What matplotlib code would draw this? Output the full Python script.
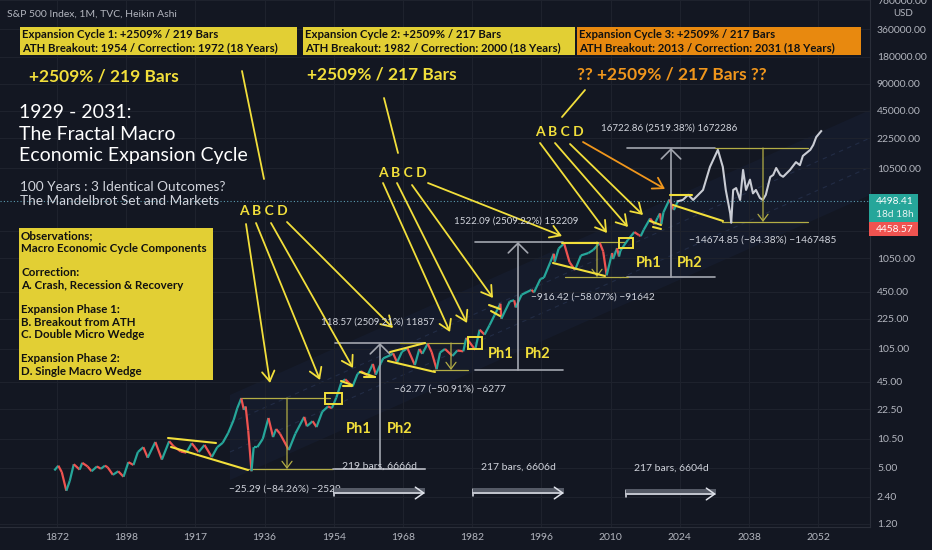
import numpy as np
import matplotlib
matplotlib.use('Agg')
import matplotlib.pyplot as plt
from matplotlib.collections import LineCollection
from matplotlib.patches import Rectangle, Polygon
from matplotlib.ticker import NullLocator

plt.rcParams['font.family'] = ['Lato', 'DejaVu Sans']

# colours
BG = '#131722'
GRID = '#1e222d'
AXTXT = '#b2b5be'
UP = '#26a69a'
DOWN = '#ef5350'
YEL = '#f2df3b'
BOX_YEL = '#e2cf34'
ORANGE = '#f0961c'
BOX_ORANGE = '#e8890f'
WHITE = '#d1d4dc'
MEAS = '#a3a6af'
OLIVE = '#b3ad45'

# axes
tick_years = [1872, 1898, 1917, 1936, 1954, 1968, 1982, 1996, 2010, 2024, 2038, 2052]
price_ticks = [1.2, 2.4, 5, 10.5, 22.5, 45, 105, 225, 450, 1050, 2100, 10500,
               22500, 45000, 90000, 180000, 360000, 760000]

# S&P 500 (monthly Heikin Ashi)
hist_years = [1871.0, 1872.5, 1873.8, 1875.5, 1876.8, 1878.3, 1880.5, 1881.5, 1883.5, 1885.0,
              1887.0, 1888.5, 1890.0, 1891.0, 1893.0, 1895.0, 1897.0, 1898.6, 1900.0, 1901.2,
              1902.7, 1903.9, 1906.0, 1907.8, 1909.8, 1911.0, 1913.0, 1914.5, 1916.0, 1917.9,
              1919.5, 1921.5, 1923.0, 1924.5, 1926.0, 1927.5, 1928.5, 1929.6, 1930.3, 1930.8,
              1931.5, 1932.4, 1933.0, 1934.0, 1935.5, 1937.0, 1938.2, 1939.0, 1940.0, 1942.3,
              1944.0, 1946.3, 1947.0, 1948.5, 1949.5, 1951.0, 1952.5, 1953.5, 1954.5, 1955.5,
              1956.3, 1957.0, 1957.8, 1958.8, 1959.5, 1960.8, 1961.9, 1962.5, 1963.5, 1964.0,
              1965.5, 1966.0, 1966.8, 1967.8, 1968.9, 1970.4, 1971.3, 1971.9, 1973.0, 1973.8,
              1974.8, 1975.5, 1976.5, 1978.0, 1979.0, 1980.2, 1980.8, 1982.6, 1983.5, 1984.5,
              1985.5, 1986.5, 1987.7, 1987.9, 1989.6, 1990.5, 1990.8, 1992.0, 1994.0, 1994.5,
              1995.8, 1996.5, 1997.8, 1998.5, 1998.7, 1999.5, 2000.6, 2001.7, 2002.8, 2004.0,
              2005.5, 2006.5, 2007.8, 2008.5, 2009.2, 2010.3, 2010.5, 2011.3, 2011.7, 2012.0,
              2013.5, 2014.8, 2015.7, 2016.1, 2016.7, 2018.0, 2018.9, 2019.5, 2020.0, 2020.25,
              2020.7, 2021.9, 2022.8, 2023.6]
hist_prices = [4.7, 5.3, 4.5, 2.8, 3.6, 5.5, 4.8, 5.7, 5.2, 4.6,
               5.2, 4.9, 5.3, 5.1, 4.2, 4.6, 4.0, 5.8, 5.4, 7.5,
               8.5, 6.5, 9.7, 6.2, 9.9, 8.7, 7.6, 7.4, 9.4, 7.5,
               9.0, 6.6, 8.5, 9.5, 12.2, 17.0, 23.0, 29.6, 22.0, 24.0,
               13.0, 4.6, 8.5, 8.5, 10.5, 17.9, 11.0, 13.5, 12.0, 7.9,
               12.0, 18.4, 14.5, 16.5, 14.2, 21.0, 24.0, 23.0, 30.0, 44.0,
               48.0, 44.0, 40.0, 55.0, 59.0, 53.0, 71.0, 54.0, 72.0, 82.0,
               89.0, 93.0, 74.0, 97.0, 106.0, 69.0, 104.0, 92.0, 119.0, 96.0,
               62.0, 95.0, 104.0, 87.0, 100.0, 98.0, 138.0, 102.0, 170.0, 150.0,
               190.0, 245.0, 330.0, 225.0, 350.0, 360.0, 300.0, 415.0, 470.0, 440.0,
               620.0, 640.0, 950.0, 1180.0, 960.0, 1350.0, 1530.0, 950.0, 780.0, 1130.0,
               1200.0, 1300.0, 1560.0, 1250.0, 680.0, 1200.0, 1030.0, 1360.0, 1100.0, 1280.0,
               1680.0, 2050.0, 1900.0, 1850.0, 2170.0, 2900.0, 2500.0, 2950.0, 3300.0, 2500.0,
               3400.0, 4700.0, 3600.0, 4498.41]

# projected fractal (ghost bars)
proj_years = [2023.6, 2024.6, 2025.7, 2026.7, 2028.7, 2030.1, 2031.7, 2032.7, 2033.3, 2034.2,
              2034.4, 2034.8, 2035.4, 2036.2, 2036.8, 2037.4, 2038.2, 2038.8, 2039.4, 2040.2,
              2040.8, 2041.4, 2042.3, 2042.9, 2043.5, 2044.3, 2044.9, 2046.3, 2047.5, 2048.3,
              2048.9, 2050.4, 2051.0, 2051.6, 2052.6]
proj_prices = [4498.41, 4650, 5300, 4650, 6000, 10800, 16700, 10800, 6000, 3300,
               2600, 6000, 6300, 4650, 10000, 6000, 7800, 5500, 6000, 4900,
               4650, 5300, 8350, 8800, 10500, 8800, 8400, 10000, 12200, 11300,
               14300, 16700, 18900, 23100, 26900]

last_close = 4498.41
last_open = 4458.57


def to_x(years):
    """Year -> position on the bar-indexed time axis"""
    years = np.asarray(years, float)
    idx = np.arange(len(tick_years))
    x = np.interp(years, tick_years, idx)
    lo = years < tick_years[0]
    x[lo] = (years[lo] - tick_years[0]) / (tick_years[1] - tick_years[0])
    hi = years > tick_years[-1]
    x[hi] = idx[-1] + (years[hi] - tick_years[-1]) / (tick_years[-1] - tick_years[-2])
    return x


W, H = 932, 550
PW, PH = 870, 527

fig = plt.figure(figsize=(W / 100, H / 100), dpi=100, facecolor=BG)
ax = fig.add_axes([0, (H - PH) / H, PW / W, PH / H], facecolor=BG)
ax.set_yscale('log')
ax.set_ylim(1.11, 762000)
ax.set_xlim(-57 / 69.2, (PW - 57) / 69.2)


def P(x, y):
    return (x / PW, 1 - y / PH)


def line(pts, color, lw=1.3, **kw):
    xs = [p[0] / PW for p in pts]
    ys = [1 - p[1] / PH for p in pts]
    ax.plot(xs, ys, transform=ax.transAxes, color=color, lw=lw,
            solid_capstyle='round', **kw)


def arrow(p0, p1, color, lw=1.3, style='->,head_length=0.45,head_width=0.28', ms=16):
    ax.annotate('', xy=P(*p1), xytext=P(*p0), xycoords='axes fraction',
                textcoords='axes fraction',
                arrowprops=dict(arrowstyle=style, color=color, lw=lw,
                                mutation_scale=ms, shrinkA=0, shrinkB=0))


def text(x, y, s, size, color, ha='left', weight='normal', **kw):
    ax.text(*P(x, y), s, transform=ax.transAxes, fontsize=size, color=color,
            ha=ha, va='center', fontweight=weight, **kw)


# axes styling (2100 label sits under the price tags)
ax.set_yticks(price_ticks)
ax.set_yticklabels(['' if p == 2100 else f'{p:.2f}' for p in price_ticks])
ax.yaxis.set_minor_locator(NullLocator())
ax.yaxis.tick_right()
ax.set_xticks(range(len(tick_years)))
ax.set_xticklabels([str(y) for y in tick_years])
ax.tick_params(axis='both', length=0, colors=AXTXT, labelsize=7.5)
ax.tick_params(axis='y', pad=5)
ax.tick_params(axis='x', pad=4)
ax.grid(True, color=GRID, lw=0.8)
for s in ['left', 'top']:
    ax.spines[s].set_visible(False)
for s in ['right', 'bottom']:
    ax.spines[s].set_color('#2a2e39')

# faint regression channel
ax.add_patch(Polygon([P(230, 480), P(870, 195), P(870, 110), P(230, 395)],
                     closed=True, transform=ax.transAxes, facecolor='#1a2542',
                     edgecolor='none', alpha=0.3, zorder=0.5))
for off in (28, 57):
    line([(230, 480 - off), (870, 195 - off)], '#222c45', lw=0.8, ls=(0, (4, 4)), zorder=0.6)

# price history, coloured by direction
hx = to_x(hist_years)
hy = np.array(hist_prices)
pts = np.column_stack([hx, hy]).reshape(-1, 1, 2)
segs = np.concatenate([pts[:-1], pts[1:]], axis=1)
cols = [UP if b >= a else DOWN for a, b in zip(hy[:-1], hy[1:])]
ax.add_collection(LineCollection(segs, colors=cols, linewidths=1.6, zorder=3))

# projection
ax.plot(to_x(proj_years), proj_prices, color='#c9ccd4', lw=1.5, zorder=3)

# last price line
ax.axhline(last_close, color='#5b9bb0', lw=0.8, ls=(0, (1, 2)), zorder=2)

# header
text(7, 14, 'S&P 500 Index, 1M, TVC, Heikin Ashi', 7.5, AXTXT)

# top info boxes
boxes = [
    ((20, 297), BOX_YEL, 'Expansion Cycle 1: +2509% / 219 Bars',
     'ATH Breakout: 1954 / Correction: 1972 (18 Years)'),
    ((303, 575), BOX_YEL, 'Expansion Cycle 2: +2509% / 217 Bars',
     'ATH Breakout: 1982 / Correction: 2000 (18 Years)'),
    ((577, 861), BOX_ORANGE, 'Expansion Cycle 3: +2509% / 217 Bars',
     'ATH Breakout: 2013 / Correction: 2031 (18 Years)'),
]
for (x0, x1), fc, l1, l2 in boxes:
    ax.add_patch(Rectangle(P(x0, 55), (x1 - x0) / PW, 28 / PH, transform=ax.transAxes,
                           facecolor=fc, edgecolor='none', zorder=4))
    text(x0 + 2, 35, l1, 8.2, '#111111', weight='bold', zorder=5)
    text(x0 + 2, 48, l2, 8.2, '#111111', weight='bold', zorder=5)

text(29, 76, '+2509% / 219 Bars', 12.5, YEL, weight='bold')
text(307, 75, '+2509% / 217 Bars', 12.5, YEL, weight='bold')
text(577, 74, '?? +2509% / 217 Bars ??', 12.5, ORANGE, weight='bold')
line([(242, 71), (264, 179)], YEL)
line([(384, 98), (398, 153)], YEL)
line([(585, 90), (562, 117)], YEL)

# title
for yy, s in zip([113, 134, 155], ['1929 - 2031:', 'The Fractal Macro', 'Economic Expansion Cycle']):
    text(19, yy, s, 14, 'white')
text(20, 187, '100 Years : 3 Identical Outcomes?', 9.8, WHITE)
text(20, 201, 'The Mandelbrot Set and Markets', 9.8, WHITE)

# observations box
ax.add_patch(Rectangle(P(19, 380), 194 / PW, 152 / PH, transform=ax.transAxes,
                       facecolor=BOX_YEL, edgecolor='none', zorder=4))
obs = ['Observations;', 'Macro Economic Cycle Components', '', 'Correction:',
       'A. Crash, Recession & Recovery', '', 'Expansion Phase 1:', 'B. Breakout from ATH',
       'C. Double Micro Wedge', '', 'Expansion Phase 2:', 'D. Single Macro Wedge']
for i, s in enumerate(obs):
    text(21, 236 + i * 12.3, s, 8.3, '#111111', weight='bold', zorder=5)

# A B C D arrows
text(263, 211, 'A B C D', 10, YEL, ha='center', weight='bold')
text(402, 173, 'A B C D', 10, YEL, ha='center', weight='bold')
text(559, 132, 'A B C D', 10, YEL, ha='center', weight='bold')
abcd = [
    [((246, 224), (270, 383)), ((256, 223), (320, 380)), ((271, 223), (353, 368)), ((287, 222), (393, 328))],
    [((383, 183), (450, 332)), ((397, 183), (467, 323)), ((412, 185), (493, 298)), ((428, 183), (562, 236))],
    [((540, 143), (607, 233)), ((555, 143), (628, 227)), ((570, 144), (643, 215))],
]
for grp in abcd:
    for p0, p1 in grp:
        arrow(p0, p1, YEL)
arrow((583, 142), (665, 189), ORANGE)

# wedges
wedges = [
    [(168, 438), (216, 443)], [(171, 447), (248, 470)],
    [(341, 381), (352, 385)], [(343, 386), (352, 386)],
    [(360, 372), (375, 377)], [(364, 377), (375, 377)],
    [(390, 352), (425, 343)], [(388, 361), (435, 372)],
    [(489, 305), (500, 309)], [(491, 311), (500, 316)],
    [(562, 243), (598, 243)], [(553, 263), (605, 276)],
    [(650, 221), (661, 225)], [(653, 227), (661, 229)],
    [(670, 195), (692, 195)], [(673, 205), (723, 221)],
]
for w in wedges:
    line(w, YEL, lw=1.5, zorder=4)

# breakout squares
for x0, y0, w, h in [(325, 393, 17, 11), (468, 337, 14, 12), (619, 238, 14, 10)]:
    ax.add_patch(Rectangle(P(x0, y0 + h), w / PW, h / PH, transform=ax.transAxes,
                           facecolor='none', edgecolor=YEL, lw=1.4, zorder=5))

# expansion measurements
meas = [
    (335, 425, 380, 343, 469, '118.57 (2509.21%) 11857', 322),
    (475, 563, 518, 242, 370, '1522.09 (2509.22%) 152209', 221),
    (627, 715, 671, 148, 277, '16722.86 (2519.38%) 1672286', 128),
]
for x0, x1, xm, yt, yb, lab, ly in meas:
    line([(x0, yt), (x1, yt)], MEAS, lw=1.2)
    line([(x0, yb), (x1, yb)], MEAS, lw=1.2)
    arrow((xm, yb), (xm, yt), MEAS, lw=1.2, style='->,head_length=0.5,head_width=0.5', ms=14)
    text(xm - 2, ly, lab, 7, WHITE, ha='center')

# corrections
corr = [
    ((240, 330), (248, 333), 287, 398, 469, '\u221225.29 (\u221284.26%) \u22122529', (285, 489)),
    ((400, 465), (433, 468), 451, 343, 370, '\u221262.77 (\u221250.91%) \u22126277', (450, 389)),
    ((562, 625), (565, 628), 597, 242, 277, '\u2212916.42 (\u221258.07%) \u221291642', (593, 297)),
    ((715, 808), (722, 808), 763, 148, 222, '\u221214674.85 (\u221284.38%) \u22121467485', (763, 240)),
]
for (tx0, tx1), (bx0, bx1), xm, yt, yb, lab, lp in corr:
    line([(tx0, yt), (tx1, yt)], OLIVE, lw=0.9)
    line([(bx0, yb), (bx1, yb)], OLIVE, lw=0.9)
    arrow((xm, yt), (xm, yb), OLIVE, lw=0.9, style='->,head_length=0.4,head_width=0.3', ms=12)
    text(lp[0], lp[1], lab, 7.3, WHITE, ha='center')

# Ph labels
for s, x, y in [('Ph1', 359, 429), ('Ph2', 400, 429), ('Ph1', 501, 354), ('Ph2', 538, 354),
                ('Ph1', 649, 263), ('Ph2', 690, 263)]:
    text(x, y, s, 10.5, YEL, ha='center', weight='bold')

# bar-count ranges
line([(333, 469), (425, 469)], MEAS, lw=1.2)
for x0, x1, y, lab, ly in [(334, 425, 492, '219 bars, 6666d', 466),
                           (473, 564, 492, '217 bars, 6606d', 467),
                           (626, 716, 493, '217 bars, 6604d', 468)]:
    ax.add_patch(Rectangle(P(x0, y + 2), (x1 - x0) / PW, 6 / PH, transform=ax.transAxes,
                           facecolor='#555a66', edgecolor='none', zorder=3))
    line([(x0, y - 3), (x0, y + 4)], '#e0e3eb', lw=1.1)
    arrow((x0, y + 1), (x1, y + 1), '#e0e3eb', lw=1.1,
          style='->,head_length=0.5,head_width=0.35', ms=12)
    text((x0 + x1) / 2, ly, lab, 7.5, WHITE, ha='center')


# price tags on the right scale
def F(x, y):
    return (x / W, 1 - y / H)


fig.add_artist(Rectangle(F(869, 222), 49 / W, 28 / H, transform=fig.transFigure,
                         facecolor=UP, edgecolor='none'))
fig.add_artist(Rectangle(F(869, 236), 49 / W, 14 / H, transform=fig.transFigure,
                         facecolor=DOWN, edgecolor='none'))
fig.text(*F(876, 202), f'{last_close:.2f}', color='white', fontsize=7.3, va='center')
fig.text(*F(876, 214), '18d 18h', color='#e8f4f2', fontsize=7.3, va='center')
fig.text(*F(876, 229), f'{last_open:.2f}', color='white', fontsize=7.3, va='center')
fig.text(*F(903, 14), 'USD', color=AXTXT, fontsize=7, va='center', ha='center')

fig.savefig('out.png', dpi=100, facecolor=BG)
